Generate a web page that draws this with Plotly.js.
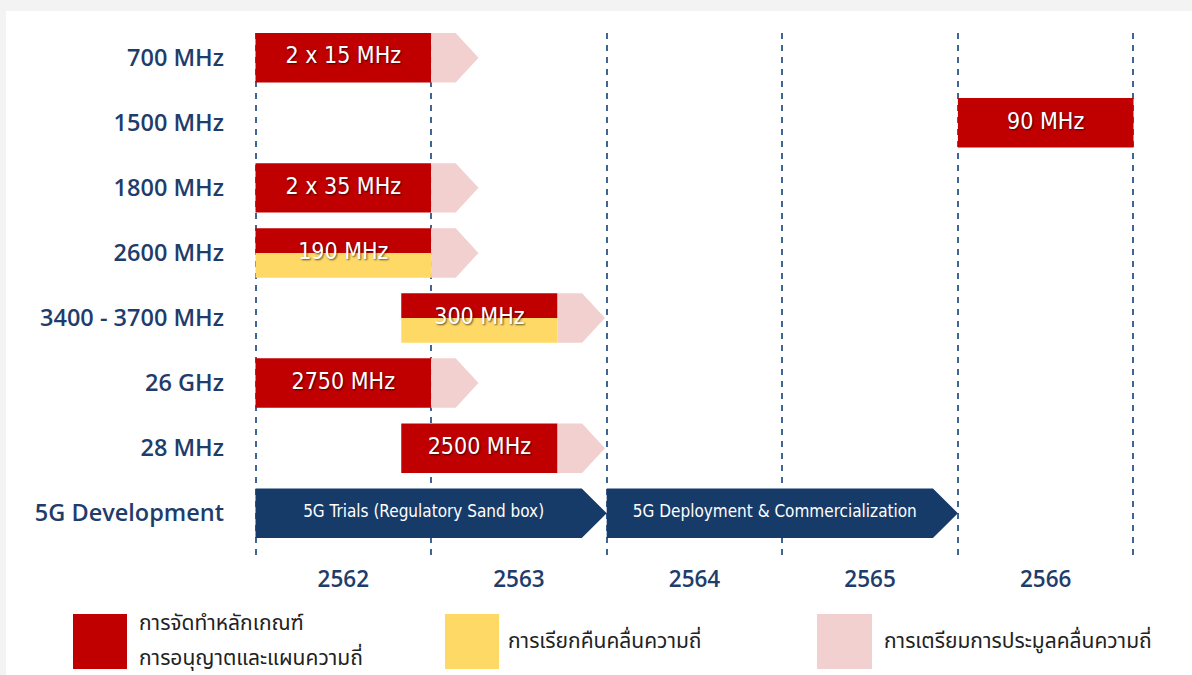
<!DOCTYPE html>
<html>
<head>
<meta charset="utf-8">
<script src="https://cdn.plot.ly/plotly-3.0.1.min.js"></script>
<style>
  html, body { margin: 0; padding: 0; background: #f3f3f3; width: 1192px; height: 675px; overflow: hidden; }
  #chart { position: absolute; left: 6px; top: 11px; width: 1186px; height: 664px; background: #ffffff; }
</style>
</head>
<body>
<div id="chart"></div>
<script>
// ---------------- data ----------------
const rows = ["700 MHz", "1500 MHz", "1800 MHz", "2600 MHz", "3400 - 3700 MHz", "26 GHz", "28 MHz", "5G Development"];
const years = [2562, 2563, 2564, 2565, 2566];
const yearBounds = [2561.5, 2562.5, 2563.5, 2564.5, 2565.5, 2566.5];

// Spectrum rule / licensing plan (red)
const redRows = ["700 MHz", "1500 MHz", "1800 MHz", "26 GHz", "28 MHz"];
const redStart = [2561.5, 2565.5, 2561.5, 2561.5, 2562.33];
const redEnd = [2562.5, 2566.5, 2562.5, 2562.5, 2563.22];
const redLabels = ["2 x 15 MHz", "90 MHz", "2 x 35 MHz", "2750 MHz", "2500 MHz"];

// Rule + refarming (red over yellow)
const splitRows = ["2600 MHz", "3400 - 3700 MHz"];
const splitStart = [2561.5, 2562.33];
const splitEnd = [2562.5, 2563.22];
const splitLabels = ["190 MHz", "300 MHz"];

// Auction preparation (pink arrows)
const prepRows = ["700 MHz", "1800 MHz", "2600 MHz", "3400 - 3700 MHz", "26 GHz", "28 MHz"];
const prepStart = [2562.5, 2562.5, 2562.5, 2563.22, 2562.5, 2563.22];
const prepEnd = [2562.77, 2562.77, 2562.77, 2563.49, 2562.77, 2563.49];

// 5G development phases (navy arrows)
const devRow = "5G Development";
const devStart = [2561.5, 2563.5];
const devEnd = [2563.5, 2565.5];
const devLabels = ["5G Trials (Regulatory Sand box)", "5G Deployment & Commercialization"];

// Legend
const legendLines = [["การจัดทำหลักเกณฑ์", "การอนุญาตและแผนความถี่"], ["การเรียกคืนคลื่นความถี่"], ["การเตรียมการประมูลคลื่นความถี่"]];

// ---------------- style ----------------
const RED = "#c00000", YELLOW = "#ffd966", PINK = "#f3d0d0", NAVY = "#173b69";
const LABEL = "#1f3d6b";
const FONT = "DejaVu Sans Condensed, DejaVu Sans, sans-serif";
const AXFONT = "Open Sans, DejaVu Sans, sans-serif";
const THAI = "Noto Sans Thai, Noto Sans Thai UI, Loma, Garuda, Noto Sans, sans-serif";
const HALF = 0.38;       // half bar thickness (row units)
const PINK_HEAD = 0.13;  // arrow head length (years)
const NAVY_HEAD = 0.142;

const idx = r => rows.indexOf(r);

function arrows(starts, ends, rr, head) {
  const x = [], y = [];
  for (let i = 0; i < starts.length; i++) {
    const s = starts[i], e = ends[i], r = rr[i];
    x.push(s, e - head, e, e - head, s, s, null);
    y.push(r - HALF, r - HALF, r, r + HALF, r + HALF, r - HALF, null);
  }
  return {x, y};
}

const traces = [];

// pink arrows
const pk = arrows(prepStart, prepEnd, prepRows.map(idx), PINK_HEAD);
traces.push({type: "scatter", mode: "lines", x: pk.x, y: pk.y, fill: "toself", fillcolor: PINK,
  line: {width: 0, color: PINK}, hoverinfo: "skip", showlegend: false});

// navy arrows
const nv = arrows(devStart, devEnd, devStart.map(() => idx(devRow)), NAVY_HEAD);
traces.push({type: "scatter", mode: "lines", x: nv.x, y: nv.y, fill: "toself", fillcolor: NAVY,
  line: {width: 0, color: NAVY}, hoverinfo: "skip", showlegend: false});

// red bars
traces.push({type: "bar", orientation: "h", y: redRows.map(idx),
  x: redEnd.map((e, i) => e - redStart[i]), base: redStart, width: 2 * HALF,
  marker: {color: RED, line: {width: 0}}, hoverinfo: "skip", showlegend: false});

// split bars: red top half, yellow bottom half
traces.push({type: "bar", orientation: "h", y: splitRows.map(idx),
  x: splitEnd.map((e, i) => e - splitStart[i]), base: splitStart, width: HALF, offset: -HALF,
  marker: {color: RED, line: {width: 0}}, hoverinfo: "skip", showlegend: false});
traces.push({type: "bar", orientation: "h", y: splitRows.map(idx),
  x: splitEnd.map((e, i) => e - splitStart[i]), base: splitStart, width: HALF, offset: 0,
  marker: {color: YELLOW, line: {width: 0}}, hoverinfo: "skip", showlegend: false});

// bar labels
const shadow = "1px 1px 2px rgba(0,0,0,0.65)";
traces.push({type: "scatter", mode: "text",
  x: redStart.map((s, i) => (s + redEnd[i]) / 2).concat(splitStart.map((s, i) => (s + splitEnd[i]) / 2)),
  y: redRows.map(idx).concat(splitRows.map(idx)),
  text: redLabels.concat(splitLabels),
  textposition: "middle center",
  textfont: {family: FONT, size: 23, color: "#ffffff", shadow: shadow},
  hoverinfo: "skip", showlegend: false});

// navy labels (centred on the body of each arrow)
traces.push({type: "scatter", mode: "text",
  x: devStart.map((s, i) => (s + devEnd[i] - NAVY_HEAD * 0.6) / 2),
  y: devStart.map(() => idx(devRow)),
  text: devLabels,
  textposition: "middle center",
  textfont: {family: FONT, size: 17, color: "#ffffff"},
  hoverinfo: "skip", showlegend: false});

// ---------------- layout ----------------
const M = {l: 246, r: 55, t: 22, b: 120};
const W = 1186, H = 664;
const PW = W - M.l - M.r, PH = H - M.t - M.b;
// page pixel -> paper (for the legend decoration only)
const px = p => (p - 6 - M.l) / PW;
const py = p => 1 - (p - 11 - M.t) / PH;

const legendSw = [[73, 127, RED], [445, 499, YELLOW], [817, 872, PINK]];
const shapes = legendSw.map(s => ({type: "rect", xref: "paper", yref: "paper",
  x0: px(s[0]), x1: px(s[1]), y0: py(614), y1: py(669), fillcolor: s[2], line: {width: 0}, layer: "above"}));

const legendPos = [[[137, 623], [137, 658]], [[506, 641]], [[882, 641]]];
const annotations = [];
legendLines.forEach((lines, i) => lines.forEach((t, j) => annotations.push({xref: "paper", yref: "paper",
  x: px(legendPos[i][j][0]), y: py(legendPos[i][j][1]), xanchor: "left", yanchor: "middle", align: "left",
  text: t, showarrow: false, font: {family: THAI, size: 21, color: "#222222"}})));

const layout = {
  width: W, height: H, margin: M,
  paper_bgcolor: "#ffffff", plot_bgcolor: "#ffffff",
  barmode: "overlay",
  xaxis: {
    range: [2561.48, 2566.52], tickvals: years, ticktext: years.map(String),
    showgrid: false, zeroline: false, showline: false, ticks: "",
    tickfont: {family: AXFONT, size: 22.5, color: LABEL, weight: 600},
    ticklabelstandoff: 8,
    minor: {tickvals: yearBounds, showgrid: true, gridcolor: "#3f6695", gridwidth: 2, griddash: "6px,6px", ticks: ""},
    fixedrange: true
  },
  yaxis: {
    range: [7.642, -0.38], tickvals: rows.map((r, i) => i), ticktext: rows,
    showgrid: false, zeroline: false, showline: false, ticks: "",
    tickfont: {family: AXFONT, size: 23.5, color: LABEL, weight: 600},
    ticklabelstandoff: 27,
    fixedrange: true
  },
  shapes: shapes,
  annotations: annotations,
  showlegend: false
};

Plotly.newPlot("chart", traces, layout, {displayModeBar: false, staticPlot: true});
</script>
</body>
</html>
